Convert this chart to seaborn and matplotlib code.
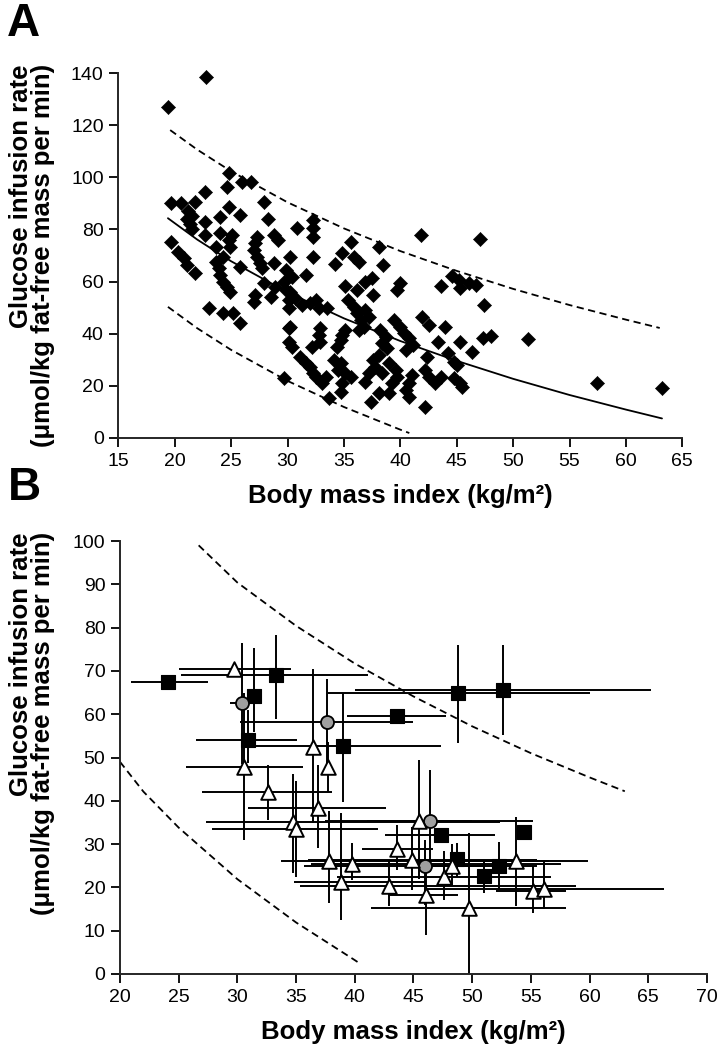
import pandas as pd
import seaborn as sns
import matplotlib.pyplot as plt

# ---- panel A: individual subjects ----
bmi_a = [19.4, 22.8, 51.3, 57.4, 63.2, 48.0,
         24.8, 26.0, 26.8, 24.6, 22.7, 19.7, 20.6, 21.8, 27.9, 24.8,
         21.2, 21.5, 21.1, 21.4, 21.5,
         24.0, 25.8, 28.3, 22.7, 30.8, 32.3, 32.3, 32.3, 22.7, 24.0,
         25.1, 24.8, 24.9,
         27.3, 27.1, 27.0, 27.3, 27.6, 27.7,
         28.8, 29.2, 19.7, 20.3, 20.8, 21.1, 21.8, 23.7, 24.3,
         23.7, 23.9, 24.0, 24.3, 24.6, 24.9, 25.8, 30.2, 32.3,
         27.9, 28.9, 29.9, 30.4, 29.7, 29.9, 31.6, 27.1, 27.0, 28.5,
         23.0, 24.3, 25.2, 25.8, 30.1, 28.8,
         35.6, 38.1, 41.8, 47.1, 34.8, 35.9, 36.3, 34.2, 38.5,
         35.1, 36.9, 37.5, 36.2, 37.6, 40.0, 39.7, 43.6,
         44.6, 45.2, 45.3, 46.1, 46.7, 47.4,
         35.4, 35.9, 36.2, 36.5, 36.3, 36.9, 37.2, 36.8, 35.1, 34.8,
         38.2, 38.7, 38.4, 38.8, 38.1, 37.6,
         39.4, 40.0, 40.3, 40.8, 41.1, 40.5,
         41.9, 42.5, 44.0, 43.3, 45.3, 46.4, 47.3, 42.4,
         44.2, 44.8, 45.0, 42.2, 42.5, 43.1, 43.6, 44.8, 45.3, 45.5,
         41.0, 40.8, 40.5, 40.8, 42.2,
         39.6, 39.7, 39.3, 39.0, 38.1, 37.4,
         39.0, 38.4, 37.8, 37.2, 36.9,
         31.1, 31.6, 32.0, 32.3, 32.5,
         34.1, 34.7, 34.5, 35.1, 35.6, 34.8, 34.7,
         33.4, 33.1, 29.7, 33.7,
         30.2, 30.7, 31.3, 32.0, 32.5, 32.8, 33.5, 30.1, 30.1, 30.2,
         32.9, 32.8, 32.9, 30.1, 30.4, 32.2, 34.4, 34.7]
gir_a = [127.1, 138.6, 37.9, 21.2, 19.3, 39.1,
         101.8, 98.3, 98.3, 96.2, 94.5, 90.0, 90.0, 90.6, 90.4, 88.7,
         87.0, 85.0, 84.0, 82.0, 80.0,
         84.9, 85.5, 84.0, 83.0, 80.4, 83.6, 80.4, 77.2, 77.9, 78.8,
         77.9, 76.0, 73.4,
         77.2, 74.7, 72.1, 69.5, 67.0, 65.1,
         77.9, 76.0, 75.3, 71.5, 68.9, 66.4, 63.2, 73.4, 69.5,
         67.6, 65.1, 62.5, 60.0, 58.0, 56.1, 65.7, 69.5, 69.5,
         59.3, 58.0, 64.4, 61.9, 60.0, 56.8, 62.5, 54.9, 52.3, 54.2,
         49.7, 47.8, 47.8, 44.0, 42.1, 67.0,
         75.3, 73.4, 77.9, 76.2, 70.8, 69.5, 67.6, 66.6, 66.4,
         58.4, 60.0, 61.3, 56.8, 54.9, 59.3, 56.8, 58.3,
         62.1, 60.6, 57.4, 59.3, 58.7, 51.0,
         52.9, 50.4, 47.8, 45.3, 41.4, 49.1, 46.5, 42.7, 41.4, 39.5,
         41.4, 38.9, 36.3, 34.4, 31.8, 29.9,
         45.3, 42.7, 40.2, 38.2, 35.7, 33.8,
         46.5, 43.3, 42.7, 36.9, 36.9, 33.1, 38.2, 31.2,
         32.5, 29.3, 28.0, 26.1, 23.5, 21.0, 23.5, 22.9, 21.0, 19.7,
         24.2, 21.0, 18.4, 15.8, 12.0,
         26.1, 23.5, 21.0, 17.1, 17.1, 13.9,
         28.7, 24.8, 27.3, 24.8, 21.6,
         31.2, 28.7, 27.3, 24.8, 23.5,
         29.9, 28.7, 26.1, 24.8, 23.5, 21.0, 17.8,
         23.5, 21.0, 22.9, 15.2,
         56.1, 53.6, 51.0, 51.7, 52.9, 49.7, 49.7, 52.9, 49.7, 42.7,
         42.1, 39.5, 36.9, 36.9, 35.0, 35.0, 35.0, 37.6]

# regression line and prediction band
fit_bmi = [19.4, 22, 25, 30, 35, 40, 45, 50, 55, 60, 63.2]
fit_gir = [84.3, 76.1, 67.8, 55.9, 45.9, 37.2, 29.6, 22.7, 16.5, 10.9, 7.5]
up_bmi_a = [19.6, 22, 25, 30, 35, 40, 45, 50, 55, 60, 63]
up_gir_a = [118.1, 110.6, 102.3, 90.4, 80.4, 71.7, 64.1, 57.2, 51.0, 45.4, 42.2]
lo_bmi_a = [19.4, 22, 25, 30, 35, 40, 40.8]
lo_gir_a = [50.3, 42.1, 33.8, 21.9, 11.9, 3.2, 1.9]

up_bmi_b = [26.7, 30, 35, 40, 45, 50, 55, 60, 63]
up_gir_b = [99.0, 90.4, 80.4, 71.7, 64.1, 57.2, 51.0, 45.4, 42.2]
lo_bmi_b = [20, 22, 25, 30, 35, 40, 40.5]
lo_gir_b = [49.0, 42.1, 33.8, 21.9, 11.9, 3.2, 2.3]

# ---- panel B: group means with ranges ----
sq_bmi    = [24.1, 33.3, 31.4, 30.9, 39.0, 43.6, 48.8, 52.6, 47.3, 54.4, 48.7, 52.3, 51.0]
sq_bmi_lo = [20.9, 25.2, 31.4, 26.5, 30.9, 39.3, 37.7, 40.0, 42.6, 54.4, 48.7, 52.3, 51.0]
sq_bmi_hi = [27.5, 41.1, 31.4, 35.1, 47.3, 47.8, 60.0, 65.2, 51.9, 54.4, 48.7, 52.3, 51.0]
sq_gir    = [67.5, 69.0, 64.1, 54.0, 52.7, 59.6, 65.0, 65.7, 32.1, 32.9, 26.5, 24.9, 22.6]
sq_gir_lo = [67.5, 58.9, 56.0, 48.7, 39.8, 59.6, 53.3, 55.2, 32.1, 32.9, 22.5, 19.4, 18.6]
sq_gir_hi = [67.5, 78.3, 75.2, 61.0, 64.9, 59.6, 76.0, 76.0, 32.1, 32.9, 30.2, 30.6, 26.3]

ci_bmi    = [30.4, 37.6, 46.4, 46.0]
ci_bmi_lo = [29.4, 30.2, 37.5, 35.7]
ci_bmi_hi = [31.3, 45.0, 55.2, 55.5]
ci_gir    = [62.5, 58.3, 35.3, 24.9]
ci_gir_lo = [48.5, 48.3, 23.5, 16.0]
ci_gir_hi = [76.5, 68.1, 47.1, 31.0]

tr_bmi    = [29.7, 30.6, 36.4, 37.7, 32.6, 36.9, 34.7, 35.0, 37.8, 39.8, 38.8,
             42.9, 43.6, 44.9, 45.5, 46.1, 47.6, 48.3, 49.7, 53.7, 55.2, 56.1]
tr_bmi_lo = [25.0, 25.6, 36.4, 37.7, 27.0, 30.9, 27.3, 27.8, 33.7, 36.3, 34.8,
             35.3, 40.6, 36.0, 41.0, 42.8, 38.5, 45.5, 41.4, 46.0, 52.0, 46.0]
tr_bmi_hi = [34.6, 35.6, 36.4, 37.7, 38.1, 42.7, 52.4, 42.0, 59.9, 57.6, 46.1,
             58.8, 46.7, 55.5, 50.0, 48.8, 56.7, 51.0, 58.0, 56.5, 58.0, 66.3]
tr_gir    = [70.4, 47.9, 52.4, 47.7, 42.1, 38.3, 35.2, 33.6, 26.2, 25.4, 21.3,
             20.3, 28.8, 26.3, 35.3, 18.2, 22.5, 24.9, 15.3, 26.1, 19.2, 19.6]
tr_gir_lo = [70.4, 30.9, 34.9, 42.0, 35.6, 29.1, 23.4, 22.5, 16.4, 21.7, 12.5,
             15.6, 24.0, 19.4, 22.0, 9.0, 17.1, 20.5, 0.0, 15.6, 14.0, 15.0]
tr_gir_hi = [70.4, 64.9, 70.4, 53.5, 48.3, 48.3, 46.3, 44.5, 37.6, 30.2, 37.1,
             26.0, 34.4, 34.0, 49.4, 24.0, 28.3, 30.0, 32.6, 36.3, 25.0, 26.0]

sns.set_style("ticks")
plt.rcParams['font.family'] = ['Liberation Sans', 'DejaVu Sans']
plt.rcParams['axes.linewidth'] = 1.4
plt.rcParams['text.color'] = 'black'

W, H = 721, 1050
fig = plt.figure(figsize=(W / 100, H / 100), dpi=100)


def px_axes(x0, x1, y_top, y_bot):
    return fig.add_axes([x0 / W, 1 - y_bot / H, (x1 - x0) / W, (y_bot - y_top) / H])


dash = (0, (4, 2.5))

# ---------- panel A ----------
axA = px_axes(118.3, 682.3, 73, 438)
sns.lineplot(x=fit_bmi, y=fit_gir, color='black', lw=1.3, ax=axA)
sns.lineplot(x=up_bmi_a, y=up_gir_a, color='black', lw=1.3, linestyle=dash, ax=axA)
sns.lineplot(x=lo_bmi_a, y=lo_gir_a, color='black', lw=1.3, linestyle=dash, ax=axA)
sns.scatterplot(x=bmi_a, y=gir_a, marker='D', color='black', edgecolor='black',
                linewidth=0.4, s=52, zorder=3, clip_on=False, ax=axA)
axA.set_xlim(15, 65)
axA.set_ylim(0, 140)
axA.set_xticks(range(15, 66, 5))
axA.set_yticks(range(0, 141, 20))

# ---------- panel B ----------
axB = px_axes(120, 707, 541, 974)
sns.lineplot(x=up_bmi_b, y=up_gir_b, color='black', lw=1.3, linestyle=dash, ax=axB)
sns.lineplot(x=lo_bmi_b, y=lo_gir_b, color='black', lw=1.3, linestyle=dash, ax=axB)

groups = [
    (sq_bmi, sq_bmi_lo, sq_bmi_hi, sq_gir, sq_gir_lo, sq_gir_hi, 's', 'black', 88, 0.8),
    (ci_bmi, ci_bmi_lo, ci_bmi_hi, ci_gir, ci_gir_lo, ci_gir_hi, 'o', '#a0a0a0', 88, 1.3),
    (tr_bmi, tr_bmi_lo, tr_bmi_hi, tr_gir, tr_gir_lo, tr_gir_hi, '^', 'white', 110, 1.4),
]
for bx, bxl, bxh, gy, gyl, gyh, *_ in groups:
    axB.hlines(gy, bxl, bxh, color='black', lw=1.4, zorder=2)
    axB.vlines(bx, gyl, gyh, color='black', lw=1.4, zorder=2)
for bx, bxl, bxh, gy, gyl, gyh, mk, col, size, ew in groups:
    df = pd.DataFrame({'bmi': bx, 'gir': gy})
    sns.scatterplot(data=df, x='bmi', y='gir', marker=mk, color=col, edgecolor='black',
                    linewidth=ew, s=size, zorder=4, clip_on=False, ax=axB)

axB.set_xlim(20, 70)
axB.set_ylim(0, 100)
axB.set_xticks(range(20, 71, 5))
axB.set_yticks(range(0, 101, 10))

for ax in (axA, axB):
    sns.despine(ax=ax)
    ax.set_xlabel('')
    ax.set_ylabel('')
    ax.tick_params(direction='out', length=6.5, width=1.3, labelsize=14, pad=4,
                   colors='black')

# ---------- labels ----------
lab_kw = dict(fontsize=18.5, fontweight='bold')
for x0, x1, top, bot in ((118.3, 682.3, 73, 438), (120, 707, 541, 974)):
    fig.text((x0 + x1) / 2 / W, 1 - (bot + 58) / H, 'Body mass index (kg/m²)',
             ha='center', va='center', **lab_kw)
    fig.text(21 / W, 1 - (top - 9) / H, 'Glucose infusion rate', rotation=90,
             ha='center', va='top', **lab_kw)
    fig.text(43 / W, 1 - (top - 9) / H, '(μmol/kg fat-free mass per min)', rotation=90,
             ha='center', va='top', **lab_kw)

fig.text(7 / W, 1 - 24 / H, 'A', fontsize=33, fontweight='bold', ha='left', va='center')
fig.text(8 / W, 1 - 488 / H, 'B', fontsize=33, fontweight='bold', ha='left', va='center')

fig.savefig('out.png', dpi=100)
